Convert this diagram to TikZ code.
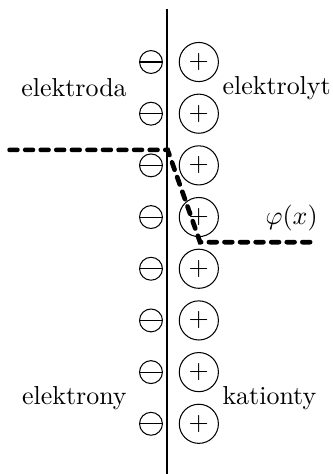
\documentclass[tikz,border=0pt]{standalone}
\usetikzlibrary{shapes.geometric, positioning, calc}

\begin{document}
\begin{tikzpicture}[
    electron/.style={draw, circle, inner sep=0pt, minimum size=0.31cm,
        path picture={\draw (path picture bounding box.west) -- (path picture bounding box.east);}},
    cation/.style={draw, circle, inner sep=0pt, minimum size=0.53cm},
    potential/.style={dashed, line width=1.8pt, line cap=round}
]
\useasboundingbox (-2.26,0.84) rectangle (2.246,-5.58);

% electrode surface
\coordinate (Top) at (0,0.72);
\coordinate (Bottom) at (0,-5.58);
\draw[semithick] (Top) -- (Bottom);

% charges of the double layer
\node[electron] (Minus1) at (-0.215, 0.0) {};
\node[electron] (Minus2) at (-0.215,-0.7) {};
\node[electron] (Minus3) at (-0.215,-1.4) {};
\node[electron] (Minus4) at (-0.215,-2.1) {};
\node[electron] (Minus5) at (-0.215,-2.8) {};
\node[electron] (Minus6) at (-0.215,-3.5) {};
\node[electron] (Minus7) at (-0.215,-4.2) {};
\node[electron] (Minus8) at (-0.215,-4.9) {};
\node[cation] (Plus1) at (0.433, 0.0) {$+$};
\node[cation] (Plus2) at (0.433,-0.7) {$+$};
\node[cation] (Plus3) at (0.433,-1.4) {$+$};
\node[cation] (Plus4) at (0.433,-2.1) {$+$};
\node[cation] (Plus5) at (0.433,-2.8) {$+$};
\node[cation] (Plus6) at (0.433,-3.5) {$+$};
\node[cation] (Plus7) at (0.433,-4.2) {$+$};
\node[cation] (Plus8) at (0.433,-4.9) {$+$};

% labels
\node[anchor=east] (Elektroda) at (-0.42,-0.35) {elektroda};
\node[anchor=west] (Elektrolyt) at (0.63,-0.35) {elektrolyt};
\node[anchor=east] (Elektrony) at (-0.42,-4.55) {elektrony};
\node[anchor=west] (Kationty) at (0.63,-4.55) {kationty};

% potential profile
\coordinate (PhiStart) at (-2.13,-1.19);
\coordinate (PhiA) at (0.01,-1.19);
\coordinate (PhiB) at (0.45,-2.44);
\coordinate (PhiEnd) at (2.03,-2.44);
\draw[potential] (PhiStart) -- (PhiA) -- (PhiB) -- (PhiEnd);
\node (Phi) at (1.69,-2.11) {$\varphi(x)$};
\end{tikzpicture}
\end{document}
